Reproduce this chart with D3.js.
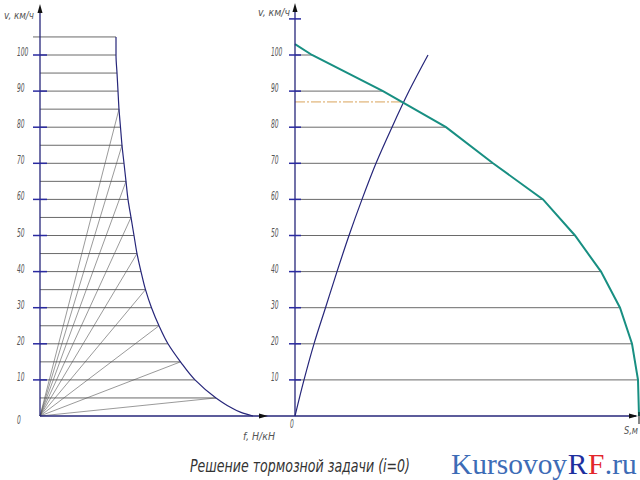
<!DOCTYPE html>
<html lang="ru">
<head>
<meta charset="UTF-8">
<title>Решение тормозной задачи</title>
<script src="https://d3js.org/d3.v7.min.js"></script>
<style>
  body { margin: 0; background: #fff; }
  svg { display: block; }
  .lbl { font-family: "Liberation Sans Narrow", "DejaVu Sans Condensed", sans-serif; font-style: italic; fill: #555; }
</style>
</head>
<body>
<div id="chart"></div>
<script>
// left diagram: specific resistance f (H/kH) vs speed v (km/h)
const resistV = [105, 100, 95, 90, 85, 80, 75, 70, 65, 60, 55, 50, 45, 40, 35, 30, 25, 20, 15, 10, 5, 2.5, 1, 0];
const resistF = [76, 76, 77, 78, 79, 80.5, 82, 84, 86, 88, 91, 94, 97, 101, 105.5, 111.5, 119, 128, 140.5, 155, 176, 190, 201, 213];
const radialV = [5, 15, 25, 35, 45, 55, 65, 75, 85];

// right diagram: braking curve and preparation path, S (m) vs v (km/h)
const brakeV = [103, 100, 90, 80, 70, 60, 50, 40, 30, 20, 10, 0];
const brakeS = [0, 17, 88, 151, 198, 248, 280, 306, 325, 337, 343, 344];
const prepV = [0, 10, 20, 30, 40, 50, 60, 70, 80, 90, 100];
const prepS = [0, 9, 19, 30.5, 42, 54, 67, 81, 97, 114, 133];
const limitV = 87;

const tickV = [10, 20, 30, 40, 50, 60, 70, 80, 90, 100];
const tickVRight = [10, 20, 30, 40, 50, 60, 70, 80, 90, 100, 110];

const width = 640, height = 480;
const axisCol = "#26267a", gridCol = "#6a6a6a";

const svg = d3.select("#chart").append("svg")
    .attr("width", width).attr("height", height);

const y = d3.scaleLinear().domain([0, 100]).range([416, 55]);
const xF = d3.scaleLinear().domain([0, 220]).range([40, 260]);
const xS = d3.scaleLinear().domain([0, 340]).range([295, 635]);

function arrow(x, yy, dir) {
  const p = dir === "up"
    ? [[x, yy], [x - 2.5, yy + 9], [x + 2.5, yy + 9]]
    : [[x, yy], [x - 9, yy - 2.5], [x - 9, yy + 2.5]];
  svg.append("path").attr("d", d3.line()(p) + "Z").attr("fill", "#111");
}

function num(x, yy, t) {
  svg.append("text").attr("class", "lbl")
    .attr("x", x).attr("y", yy)
    .attr("font-size", 12)
    .attr("textLength", t.length * 3.8)
    .attr("lengthAdjust", "spacingAndGlyphs")
    .text(t);
}

// ---- left diagram ----
const leftPts = resistV.map((v, i) => [xF(resistF[i]), y(v)]);
const fAt = v => resistF[resistV.indexOf(v)];

svg.append("g").selectAll("line")
  .data(resistV.filter(v => v >= 5 && v % 5 === 0))
  .join("line")
    .attr("x1", v => v === 105 ? 33 : xF(0))
    .attr("x2", v => xF(fAt(v)))
    .attr("y1", v => y(v)).attr("y2", v => y(v))
    .attr("stroke", gridCol).attr("stroke-width", 1);

svg.append("g").selectAll("line")
  .data(radialV)
  .join("line")
    .attr("x1", xF(0)).attr("y1", y(0))
    .attr("x2", v => xF(fAt(v))).attr("y2", v => y(v))
    .attr("stroke", "#555").attr("stroke-width", 0.6);

svg.append("path")
  .attr("d", d3.line().curve(d3.curveMonotoneY)(leftPts))
  .attr("fill", "none").attr("stroke", axisCol).attr("stroke-width", 1.2);

svg.append("line").attr("x1", xF(0)).attr("x2", xF(0))
  .attr("y1", y(0)).attr("y2", 8).attr("stroke", axisCol).attr("stroke-width", 1.3);
arrow(xF(0), 4, "up");
svg.append("line").attr("x1", xF(0)).attr("x2", 636)
  .attr("y1", y(0)).attr("y2", y(0)).attr("stroke", axisCol).attr("stroke-width", 1.3);
arrow(268, y(0), "right");

svg.append("g").selectAll("line").data(tickV).join("line")
  .attr("x1", 33).attr("x2", 47)
  .attr("y1", v => y(v)).attr("y2", v => y(v))
  .attr("stroke", "#2a2aa0").attr("stroke-width", 1.5);

tickV.forEach(v => num(17, y(v) + 1, String(v)));
num(17, y(0) + 8, "0");

svg.append("text").attr("class", "lbl").attr("x", 4).attr("y", 19)
  .attr("font-size", 11).attr("textLength", 30).attr("lengthAdjust", "spacingAndGlyphs")
  .text("v, км/ч");
svg.append("text").attr("class", "lbl").attr("x", 243).attr("y", 440)
  .attr("font-size", 11).attr("textLength", 32).attr("lengthAdjust", "spacingAndGlyphs")
  .text("f, H/кН");

// ---- right diagram ----
svg.append("g").selectAll("line")
  .data(tickV)
  .join("line")
    .attr("x1", xS(0))
    .attr("x2", v => xS(brakeS[brakeV.indexOf(v)]))
    .attr("y1", v => y(v)).attr("y2", v => y(v))
    .attr("stroke", gridCol).attr("stroke-width", 1);

// permitted speed line up to the crossing
svg.append("line")
  .attr("x1", xS(0)).attr("x2", xS(108))
  .attr("y1", y(limitV)).attr("y2", y(limitV))
  .attr("stroke", "#d9a35a").attr("stroke-width", 1)
  .attr("stroke-dasharray", "10,2,2,2");

svg.append("path")
  .attr("d", d3.line().curve(d3.curveMonotoneY)(prepV.map((v, i) => [xS(prepS[i]), y(v)])))
  .attr("fill", "none").attr("stroke", axisCol).attr("stroke-width", 1.2);

svg.append("path")
  .attr("d", d3.line()(brakeV.map((v, i) => [xS(brakeS[i]), y(v)])))
  .attr("fill", "none").attr("stroke", "#188f82").attr("stroke-width", 2);

svg.append("line").attr("x1", xS(0)).attr("x2", xS(0))
  .attr("y1", y(0)).attr("y2", 7).attr("stroke", axisCol).attr("stroke-width", 1.3);
arrow(xS(0), 3, "up");
arrow(638, y(0), "right");
svg.append("line").attr("x1", 639).attr("x2", 639)
  .attr("y1", y(0) - 4).attr("y2", y(0) + 8).attr("stroke", "#111").attr("stroke-width", 1);

svg.append("g").selectAll("line").data(tickVRight).join("line")
  .attr("x1", 289).attr("x2", 301)
  .attr("y1", v => y(v)).attr("y2", v => y(v))
  .attr("stroke", "#2a2aa0").attr("stroke-width", 1.5);

tickV.forEach(v => num(271, y(v) + 1, String(v)));
num(290, y(0) + 12, "0");

svg.append("text").attr("class", "lbl").attr("x", 258).attr("y", 16)
  .attr("font-size", 11).attr("textLength", 32).attr("lengthAdjust", "spacingAndGlyphs")
  .text("v, км/ч");
svg.append("text").attr("class", "lbl").attr("x", 624).attr("y", 434)
  .attr("font-size", 11).attr("textLength", 14).attr("lengthAdjust", "spacingAndGlyphs")
  .text("S,м");

// ---- captions ----
// title: font size fitted so it spans about 220px, stretched a little vertically
const title = svg.append("text").attr("class", "lbl")
  .attr("transform", "translate(190,472) scale(1,1.3)")
  .attr("font-size", 19).style("fill", "#333")
  .text("Решение тормозной задачи (i=0)");
const tw = title.node().getComputedTextLength();
title.attr("font-size", Math.min(19, 19 * 220 / tw));

// watermark, one text per colour placed side by side, fitted to ~186px
const wmParts = [["Kursovoy", "#3d6cb6"], ["R", "#1e2f9e"], ["F", "#e3262b"], [".ru", "#3d6cb6"]];
const wmEls = wmParts.map(([t, c]) => svg.append("text").attr("y", 474)
    .attr("font-family", "'Liberation Serif', 'DejaVu Serif', serif")
    .attr("font-size", 30).attr("fill", c).text(t));
const wmW = d3.sum(wmEls, el => el.node().getComputedTextLength());
const wmSize = 30 * 184 / wmW;
let wx = 451;
wmEls.forEach(el => {
  el.attr("font-size", wmSize).attr("x", wx);
  wx += el.node().getComputedTextLength() + 0.6;
});
</script>
</body>
</html>
